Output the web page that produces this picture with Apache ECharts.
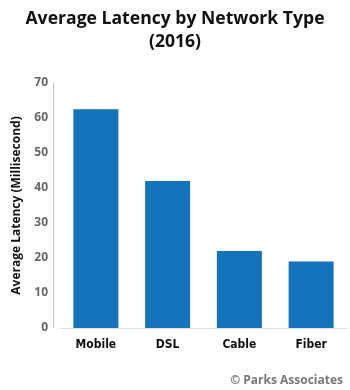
<!DOCTYPE html>
<html>
<head>
<meta charset="utf-8">
<script src="https://cdn.jsdelivr.net/npm/echarts@6/dist/echarts.min.js"></script>
<style>
html, body { margin: 0; padding: 0; background: #fff; }
#chart { width: 350px; height: 390px; }
</style>
</head>
<body>
<div id="chart"></div>
<script>
// network types and average latency (ms)
var networks = ["Mobile", "DSL", "Cable", "Fiber"];
var latency = [62.5, 42, 22, 19];
var yTicks = { min: 0, max: 70, interval: 10 };

var mychart = echarts.init(document.getElementById("chart"));
var option = {
  animation: false,
  title: {
    text: "Average Latency by Network Type\n(2016)",
    left: "center",
    top: 2,
    textStyle: {
      color: "#111",
      fontFamily: "Open Sans",
      fontWeight: "bold",
      fontSize: 17.6,
      lineHeight: 23
    }
  },
  grid: {
    left: 60,
    right: 3,
    top: 83,
    bottom: 62
  },
  xAxis: {
    type: "category",
    data: networks,
    axisLine: { lineStyle: { color: "#e3e3e3" } },
    axisTick: { show: false },
    axisLabel: {
      color: "#111",
      fontFamily: "'DejaVu Sans Condensed', Roboto, sans-serif",
      fontWeight: "bold",
      fontSize: 12,
      margin: 11
    }
  },
  yAxis: {
    type: "value",
    min: yTicks.min,
    max: yTicks.max,
    interval: yTicks.interval,
    offset: 7,
    name: "Average Latency (Millisecond)",
    nameLocation: "middle",
    nameGap: 30,
    nameTextStyle: {
      color: "#111",
      fontFamily: "Open Sans",
      fontWeight: "bold",
      fontSize: 12
    },
    axisLine: { show: true, lineStyle: { color: "#bbb", type: "dotted" } },
    axisTick: { show: false },
    splitLine: { show: false },
    axisLabel: {
      color: "#666",
      fontFamily: "Open Sans",
      fontWeight: "bold",
      fontSize: 12,
      margin: 5
    }
  },
  series: [
    {
      type: "bar",
      data: latency,
      barWidth: 45,
      itemStyle: { color: "#1473bd" }
    }
  ],
  graphic: [
    {
      type: "text",
      right: 7,
      bottom: 3,
      style: {
        text: "© Parks Associates",
        fill: "#777",
        fontFamily: "Open Sans",
        fontWeight: "bold",
        fontSize: 12
      }
    }
  ]
};
mychart.setOption(option, true);
</script>
</body>
</html>
